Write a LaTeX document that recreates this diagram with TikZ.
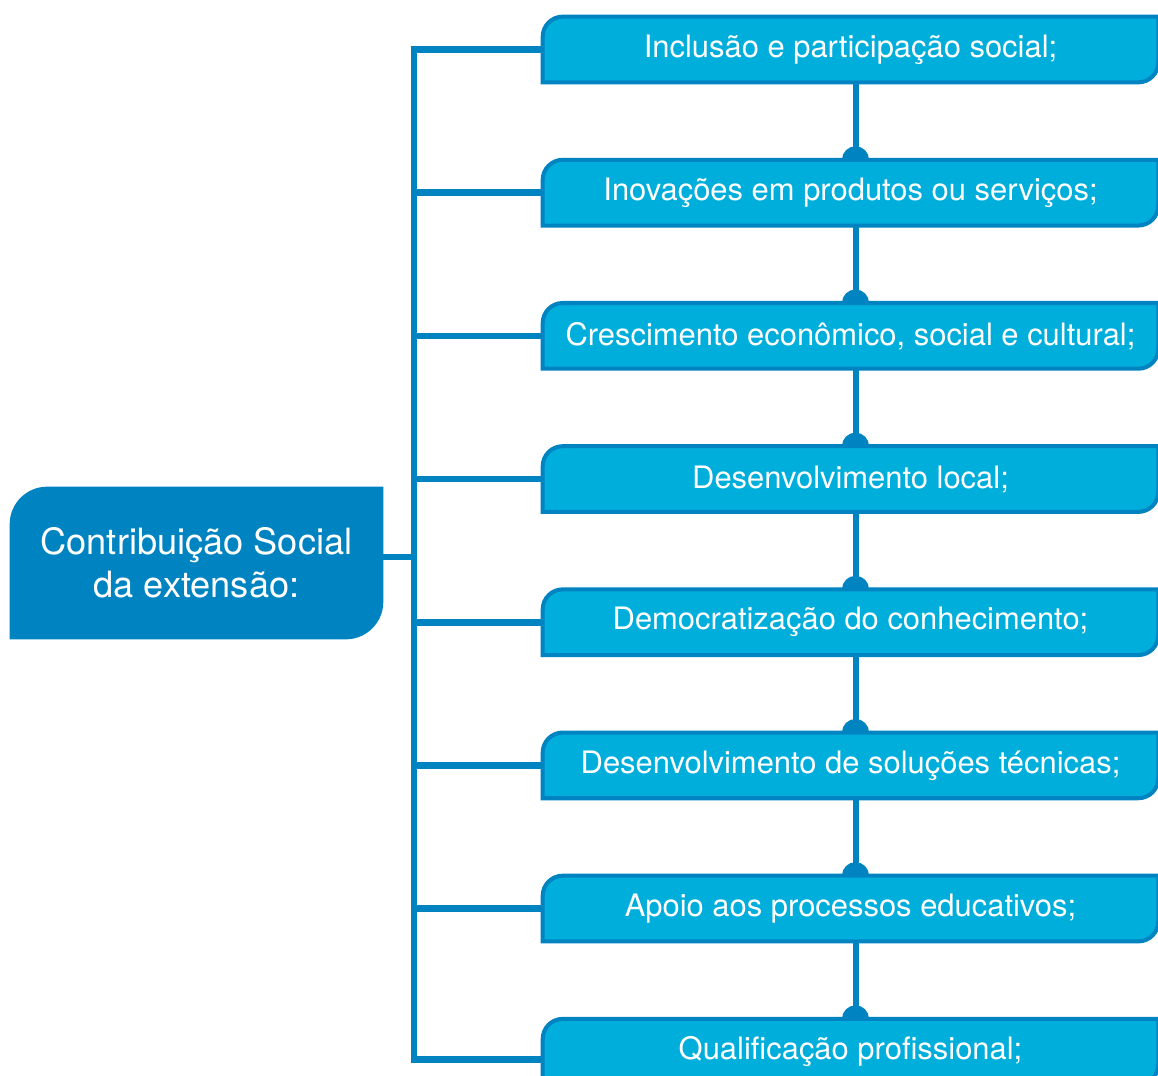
\documentclass[tikz,border=0pt]{standalone}
\usepackage{fontspec}
\setmainfont{TeX Gyre Heros}
\usetikzlibrary{chains,positioning,arrows.meta}
\definecolor{ufblue}{RGB}{0,131,193}
\definecolor{ufcyan}{RGB}{0,174,219}
\pgfdeclarelayer{back}
\pgfdeclarelayer{mid}
\pgfsetlayers{back,mid,main}
% box with rounded top left and bottom right corners
\newcommand{\tabshape}[3]{%
  \path[#2] (#1.south west) -- ([yshift=-#3]#1.north west)
    arc[start angle=180,end angle=90,radius=#3] -- (#1.north east)
    -- ([yshift=#3]#1.south east)
    arc[start angle=0,end angle=-90,radius=#3] -- cycle;}

\begin{document}
\begin{tikzpicture}[
x=0.02cm,y=0.02cm,
topic/.style={
	minimum width=7.46cm,
	minimum height=3.04cm,
	inner sep=0pt,
	align=center,
	text=white,
	font=\fontsize{20.6}{24.5}\selectfont
},
item/.style={
	on chain,
	minimum width=12.3cm,
	minimum height=1.3cm,
	inner sep=0pt,
	text=white,
	font=\fontsize{17.6}{21}\selectfont
},
tab/.style={fill=ufcyan,draw=ufblue,line width=2.3pt},
line/.style={ufblue,line width=3.8pt},
link/.style={ufblue,line width=3.4pt,-{Circle[length=0.54cm]},shorten >=-0.27cm},
start chain=going below,node distance=1.55cm
]
\useasboundingbox (0,0) rectangle (1158,-1075);

\node[topic] at (196.5,-563)
(topic) {Contribuição Social\\da extensão:};

\node[item] at (850.5,-49.5)
(q1) {Inclusão e participação social;};
\node[item] (q2) {Inovações em produtos ou serviços;};
\node[item] (q3) {Crescimento econômico, social e cultural;};
\node[item] (q4) {Desenvolvimento local;};
\node[item] (q5) {Democratização do conhecimento;};
\node[item] (q6) {Desenvolvimento de soluções técnicas;};
\node[item] (q7) {Apoio aos processos educativos;};
\node[item] (q8) {Qualificação profissional;};

\begin{pgfonlayer}{mid}
\tabshape{topic}{fill=ufblue}{0.75cm}
\foreach \n in {1,...,8}
	\tabshape{q\n}{tab}{0.4cm};
\end{pgfonlayer}

\begin{pgfonlayer}{back}
\coordinate (bus) at (414,0);
\foreach \n [count=\m from 2] in {1,...,7}
	\draw[link] ([xshift=0.1cm]q\n.south) -- ([xshift=0.1cm]q\m.north);
\draw[line] (q1.west) -- (q1.west -| bus) -- ([yshift=-0.16cm]q8.west -| bus) -- ([yshift=-0.16cm]q8.west);
\foreach \n in {2,...,7}
	\draw[line] (q\n.west -| bus) -- (q\n.west);
\draw[line] ([yshift=0.12cm]topic.east) -- ([yshift=0.12cm]topic.east -| bus);
\end{pgfonlayer}

\end{tikzpicture}
\end{document}
